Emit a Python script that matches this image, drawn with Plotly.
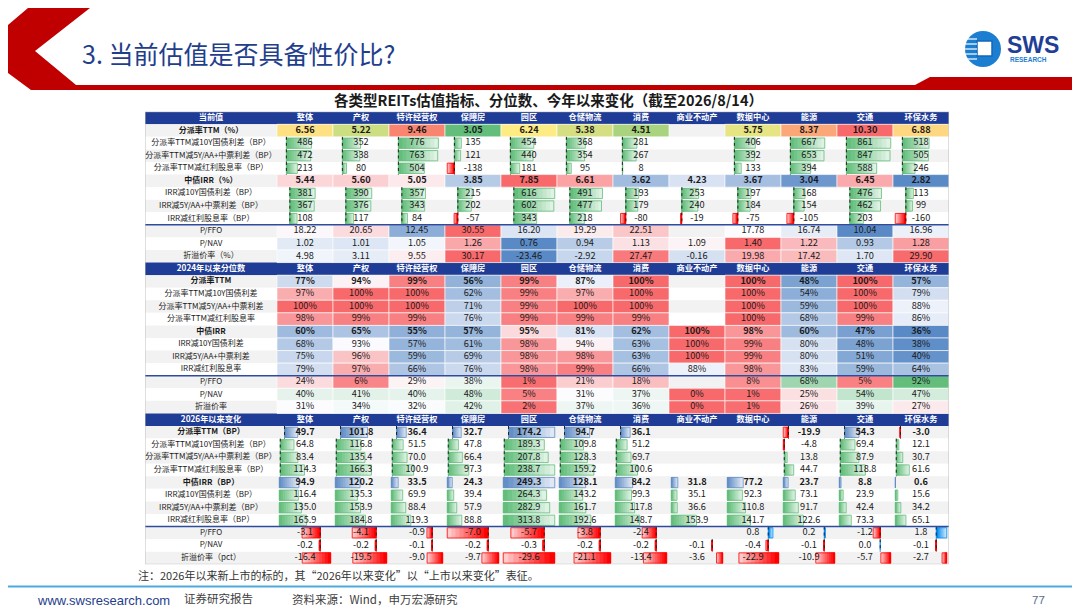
import numpy as np
import plotly.graph_objects as go

# ---- data ----
columns = ["整体", "产权", "特许经营权", "保障房", "园区", "仓储物流", "消费",
           "商业不动产", "数据中心", "能源", "交通", "环保水务"]
section_titles = ["当前值", "2024年以来分位数", "2026年以来变化"]

cur_labels = ["分派率TTM（%）", "分派率TTM减10Y国债利差（BP）", "分派率TTM减5Y/AA+中票利差（BP）",
              "分派率TTM减红利股息率（BP）", "中债IRR（%）", "IRR减10Y国债利差（BP）",
              "IRR减5Y/AA+中票利差（BP）", "IRR减红利股息率（BP）", "P/FFO", "P/NAV", "折溢价率（%）"]
cur_yield = [6.56, 5.22, 9.46, 3.05, 6.24, 5.38, 4.51, None, 5.75, 8.37, 10.30, 6.88]
cur_yield_10y = [486, 352, 776, 135, 454, 368, 281, None, 406, 667, 861, 518]
cur_yield_5yaa = [472, 338, 763, 121, 440, 354, 267, None, 392, 653, 847, 505]
cur_yield_div = [213, 80, 504, -138, 181, 95, 8, None, 133, 394, 588, 246]
cur_irr = [5.44, 5.60, 5.05, 3.85, 7.85, 6.61, 3.62, 4.23, 3.67, 3.04, 6.45, 2.82]
cur_irr_10y = [381, 390, 357, 215, 616, 491, 193, 253, 197, 168, 476, 113]
cur_irr_5yaa = [367, 376, 343, 202, 602, 477, 179, 240, 184, 154, 462, 99]
cur_irr_div = [108, 117, 84, -57, 343, 218, -80, -19, -75, -105, 203, -160]
cur_pffo = [18.22, 20.65, 12.45, 30.55, 16.20, 19.29, 22.51, None, 17.78, 16.74, 10.04, 16.96]
cur_pnav = [1.02, 1.01, 1.05, 1.26, 0.76, 0.94, 1.13, 1.09, 1.40, 1.22, 0.93, 1.28]
cur_prem = [4.98, 3.11, 9.55, 30.17, -23.46, -2.92, 27.47, -0.16, 19.98, 17.42, 1.70, 29.90]

pct_labels = ["分派率TTM", "分派率TTM减10Y国债利差", "分派率TTM减5Y/AA+中票利差", "分派率TTM减红利股息率",
              "中债IRR", "IRR减10Y国债利差", "IRR减5Y/AA+中票利差", "IRR减红利股息率",
              "P/FFO", "P/NAV", "折溢价率"]
pct_yield = [77, 94, 99, 56, 99, 87, 100, None, 100, 48, 100, 57]
pct_yield_10y = [97, 100, 100, 62, 99, 97, 100, None, 100, 54, 100, 79]
pct_yield_5yaa = [100, 100, 100, 71, 99, 100, 100, None, 100, 59, 100, 88]
pct_yield_div = [98, 99, 99, 76, 99, 99, 99, None, 100, 68, 99, 86]
pct_irr = [60, 65, 55, 57, 95, 81, 62, 100, 98, 60, 47, 36]
pct_irr_10y = [68, 93, 57, 61, 98, 94, 63, 100, 99, 80, 48, 38]
pct_irr_5yaa = [75, 96, 59, 69, 98, 98, 63, 100, 99, 80, 51, 40]
pct_irr_div = [79, 97, 66, 76, 98, 99, 66, 88, 98, 83, 59, 64]
pct_pffo = [24, 6, 29, 38, 1, 21, 18, None, 8, 68, 5, 92]
pct_pnav = [40, 41, 40, 48, 5, 31, 37, 0, 1, 25, 54, 47]
pct_prem = [31, 34, 32, 42, 2, 37, 36, 0, 1, 26, 39, 27]

chg_labels = ["分派率TTM（BP）", "分派率TTM减10Y国债利差（BP）", "分派率TTM减5Y/AA+中票利差（BP）",
              "分派率TTM减红利股息率（BP）", "中债IRR（BP）", "IRR减10Y国债利差（BP）",
              "IRR减5Y/AA+中票利差（BP）", "IRR减红利股息率（BP）", "P/FFO", "P/NAV", "折溢价率（pct）"]
chg_yield = [49.7, 101.8, 36.4, 32.7, 174.2, 94.7, 36.1, None, None, -19.9, 54.3, -3.0]
chg_yield_10y = [64.8, 116.8, 51.5, 47.8, 189.3, 109.8, 51.2, None, None, -4.8, 69.4, 12.1]
chg_yield_5yaa = [83.4, 135.4, 70.0, 66.4, 207.8, 128.3, 69.7, None, None, 13.8, 87.9, 30.7]
chg_yield_div = [114.3, 166.3, 100.9, 97.3, 238.7, 159.2, 100.6, None, None, 44.7, 118.8, 61.6]
chg_irr = [94.9, 120.2, 33.5, 24.3, 249.3, 128.1, 84.2, 31.8, 77.2, 23.7, 8.8, 0.6]
chg_irr_10y = [116.4, 135.3, 69.9, 39.4, 264.3, 143.2, 99.3, 35.1, 92.3, 73.1, 23.9, 15.6]
chg_irr_5yaa = [135.0, 153.9, 88.4, 57.9, 282.9, 161.7, 117.8, 36.6, 110.8, 91.7, 42.4, 34.2]
chg_irr_div = [165.9, 184.8, 119.3, 88.8, 313.8, 192.6, 148.7, 153.9, 141.7, 122.6, 73.3, 65.1]
chg_pffo = [-3.1, -4.1, -0.9, -7.0, -5.7, -3.8, -2.4, None, 0.8, 0.2, -1.2, 1.8]
chg_pnav = [-0.2, -0.2, -0.1, -0.2, -0.3, -0.2, -0.2, -0.1, -0.4, -0.1, 0.0, -0.1]
chg_prem = [-16.4, -19.5, -9.0, -9.7, -29.6, -21.1, -13.4, -3.6, -22.9, -10.9, -5.7, -2.7]

sections = [
    (section_titles[0], cur_labels, [cur_yield, cur_yield_10y, cur_yield_5yaa, cur_yield_div, cur_irr,
                                     cur_irr_10y, cur_irr_5yaa, cur_irr_div, cur_pffo, cur_pnav, cur_prem]),
    (section_titles[1], pct_labels, [pct_yield, pct_yield_10y, pct_yield_5yaa, pct_yield_div, pct_irr,
                                     pct_irr_10y, pct_irr_5yaa, pct_irr_div, pct_pffo, pct_pnav, pct_prem]),
    (section_titles[2], chg_labels, [chg_yield, chg_yield_10y, chg_yield_5yaa, chg_yield_div, chg_irr,
                                     chg_irr_10y, chg_irr_5yaa, chg_irr_div, chg_pffo, chg_pnav, chg_prem]),
]


def fmt(s, r, v):
    if s == 0:
        return "%.2f" % v if r in (0, 4, 8, 9, 10) else "%.0f" % v
    if s == 1:
        return "%.0f%%" % v
    return "%.1f" % v


# ---- styles ----
FONT = "Noto Sans CJK SC"
HEADER = "#1F3C96"
STRIPE = "#F2F2F2"
GREEN, YELLOW, RED, BLUE, WHITE = "#63BE7B", "#FFEB84", "#F8696B", "#5A8AC6", "#FCFCFF"
BAR_RED, BAR_BLUE, BAR_SKY = "#FF0000", "#638EC6", "#008AEF"

color_rules = [
    (0, [0], GREEN, YELLOW, RED),
    (0, [4], BLUE, WHITE, RED),
    (0, [8], BLUE, WHITE, RED),
    (0, [9], BLUE, WHITE, RED),
    (0, [10], BLUE, WHITE, RED),
    (1, [0, 1, 2, 3, 4, 5, 6, 7], BLUE, WHITE, RED),
    (1, [8, 9, 10], RED, WHITE, GREEN),
]
bar_rules = [
    (0, [1, 2, 3], GREEN),
    (0, [5, 6, 7], GREEN),
    (2, [0], BAR_BLUE),
    (2, [1, 2, 3], GREEN),
    (2, [4], BAR_BLUE),
    (2, [5, 6, 7], GREEN),
    (2, [8, 9], BAR_SKY),
    (2, [10], BAR_SKY),
]

W, H = 1080, 608
LW = 132 / 56
TOP_PX, BOT_PX = 103.7, 556.3
LEFT_PX, RIGHT_PX = 137, 941
PAD = 0.04
N_SEG = 10


def hex_rgb(h):
    h = h.lstrip("#")
    return [int(h[i:i + 2], 16) for i in (0, 2, 4)]


def mix(c1, c2, t):
    t = min(max(t, 0.0), 1.0)
    a, b = hex_rgb(c1), hex_rgb(c2)
    return "rgb(%d,%d,%d)" % tuple(round(a[k] + (b[k] - a[k]) * t) for k in range(3))


def scale3(v, lo, mid, hi, c_lo, c_mid, c_hi):
    if v <= mid:
        return mix(c_lo, c_mid, (v - lo) / (mid - lo) if mid > lo else 1)
    return mix(c_mid, c_hi, (v - mid) / (hi - mid) if hi > mid else 1)


def row_y(s, r):
    return s * 12 + 1 + r


fig = go.Figure()

# row backgrounds
bg_y, bg_c = [], []
for i in range(36):
    r = i % 12
    bg_y.append(i)
    bg_c.append(HEADER if r == 0 else (STRIPE if (r - 1) % 2 == 0 else "#FFFFFF"))
fig.add_trace(go.Bar(orientation="h", y=bg_y, x=[12 + LW] * 36, base=[-LW] * 36, width=1,
                     marker=dict(color=bg_c, line=dict(width=0)), hoverinfo="skip"))

# colour-scale cells
cy, cx, cc = [], [], []
for s, rows, c_lo, c_mid, c_hi in color_rules:
    data = sections[s][2]
    vals = [v for r in rows for v in data[r] if v is not None]
    lo, mid, hi = min(vals), float(np.percentile(vals, 50)), max(vals)
    for r in rows:
        for j, v in enumerate(data[r]):
            if v is None:
                continue
            cy.append(row_y(s, r))
            cx.append(j)
            cc.append(scale3(v, lo, mid, hi, c_lo, c_mid, c_hi))
fig.add_trace(go.Bar(orientation="h", y=cy, x=[1] * len(cy), base=cx, width=1,
                     marker=dict(color=cc, line=dict(color="white", width=0.6)), hoverinfo="skip"))

# data bars
sy, sb, sl, sc = [], [], [], []
oy, ob, ol, oc = [], [], [], []
ax_x, ax_y = [], []
for s, rows, pos_color in bar_rules:
    data = sections[s][2]
    vals = [v for r in rows for v in data[r] if v is not None]
    lo, hi = min(0, min(vals)), max(0, max(vals))
    span = hi - lo
    a = -lo / span
    for r in rows:
        y = row_y(s, r)
        for j, v in enumerate(data[r]):
            if v is None:
                continue
            x0 = j + PAD + a * (1 - 2 * PAD)
            L = v / span * (1 - 2 * PAD)
            c = pos_color if v >= 0 else BAR_RED
            for k in range(N_SEG):
                sy.append(y)
                sb.append(x0)
                sl.append(L * (N_SEG - k) / N_SEG)
                sc.append(mix(c, "#FFFFFF", 0.8 * (N_SEG - 1 - k) / (N_SEG - 1)))
            oy.append(y)
            ob.append(x0)
            ol.append(L)
            oc.append(c)
            if lo < 0 < hi:
                ax_x += [x0, x0, None]
                ax_y += [y - 0.5, y + 0.5, None]
fig.add_trace(go.Bar(orientation="h", y=sy, x=sl, base=sb, width=0.82,
                     marker=dict(color=sc, line=dict(width=0)), hoverinfo="skip"))
fig.add_trace(go.Bar(orientation="h", y=oy, x=ol, base=ob, width=0.82,
                     marker=dict(color="rgba(0,0,0,0)", line=dict(color=oc, width=0.8)), hoverinfo="skip"))
fig.add_trace(go.Scatter(x=ax_x, y=ax_y, mode="lines", line=dict(color="#222222", width=1, dash="dot"),
                         hoverinfo="skip"))

# separator lines and border
sep_x, sep_y = [], []
for s in range(3):
    sep_x += [-LW, 12, None]
    sep_y += [row_y(s, 7.5)] * 2 + [None]
fig.add_trace(go.Scatter(x=sep_x, y=sep_y, mode="lines", line=dict(color="#2F4B9E", width=1.5),
                         hoverinfo="skip"))
fig.add_trace(go.Scatter(x=[-LW, 12, 12, -LW, -LW], y=[-0.5, -0.5, 35.5, 35.5, -0.5], mode="lines",
                         line=dict(color="#BFBFBF", width=1), hoverinfo="skip"))

# texts
hx, hy, ht = [], [], []
tx, ty, tt = [], [], []
lx, ly, lt = [], [], []
for s, (title, labels, data) in enumerate(sections):
    hx.append(-LW / 2)
    hy.append(s * 12)
    ht.append("<b>%s</b>" % title)
    for j, name in enumerate(columns):
        hx.append(j + 0.5)
        hy.append(s * 12)
        ht.append("<b>%s</b>" % name)
    for r, lab in enumerate(labels):
        bold = r in (0, 4)
        lx.append(-LW / 2)
        ly.append(row_y(s, r))
        lt.append("<b>%s</b>" % lab if bold else lab)
        for j, v in enumerate(data[r]):
            if v is None:
                continue
            tx.append(j + 0.5)
            ty.append(row_y(s, r))
            tt.append("<b>%s</b>" % fmt(s, r, v) if bold else fmt(s, r, v))
fig.add_trace(go.Scatter(x=hx, y=hy, text=ht, mode="text", textposition="middle center",
                         textfont=dict(family=FONT, size=8.2, color="white"), hoverinfo="skip"))
fig.add_trace(go.Scatter(x=lx, y=ly, text=lt, mode="text", textposition="middle center",
                         textfont=dict(family=FONT, size=8, color="#1A1A1A"), hoverinfo="skip"))
fig.add_trace(go.Scatter(x=tx, y=ty, text=tt, mode="text", textposition="middle center",
                         textfont=dict(family=FONT, size=9.2, color="#1A1A1A"), hoverinfo="skip"))


# ---- slide decoration ----
def P(x, y):
    return "%.4f,%.4f" % (x / W, 1 - y / H)


chevron = [(20, 0), (82, 0), (27, 43), (68, 77), (907, 77), (922, 69), (1080, 69), (1080, 82),
           (23, 82), (0, 65), (0, 17)]
shapes = [
    dict(type="path", xref="paper", yref="paper",
         path="M " + " L ".join(P(x, y) for x, y in chevron) + " Z",
         fillcolor="#C00000", line=dict(width=0)),
    dict(type="circle", xref="paper", yref="paper", x0=957 / W, x1=993 / W, y0=1 - 59 / H, y1=1 - 23 / H,
         fillcolor="#1C7ED0", line=dict(width=0)),
    dict(type="rect", xref="paper", yref="paper", x0=969 / W, x1=984 / W, y0=1 - 48 / H, y1=1 - 33 / H,
         fillcolor="white", line=dict(color="#1565B8", width=1.5)),
    dict(type="line", xref="paper", yref="paper", x0=0, x1=1, y0=1 - 578.5 / H, y1=1 - 578.5 / H,
         line=dict(color="#4BACDC", width=2)),
]
for yy in (31, 36, 41, 46, 51):
    shapes.append(dict(type="line", xref="paper", yref="paper", x0=957 / W, x1=969 / W,
                       y0=1 - yy / H, y1=1 - yy / H, line=dict(color="white", width=1.2)))


def note(x, y, text, size, color, anchor="left", family=FONT):
    return dict(x=x / W, y=1 - y / H, xref="paper", yref="paper", text=text, showarrow=False,
                xanchor=anchor, yanchor="middle", font=dict(family=family, size=size, color=color))


annotations = [
    note(72, 45, "3. 当前估值是否具备性价比?", 25, "#1F3E8C"),
    note(540, 92, "<b>各类型REITs估值指标、分位数、今年以来变化（截至2026/8/14）</b>", 14.5, "#1A1A1A", "center"),
    note(997, 37, "<b>SWS</b>", 23, "#1F3E96", family="Liberation Sans"),
    note(1000, 51.5, "<b>RESEARCH</b>", 6.5, "#1C7ED0", family="Liberation Sans"),
    note(128, 567, "注：2026年以来新上市的标的，其“2026年以来变化”以“上市以来变化”表征。", 11, "#333333"),
    note(27, 592, "www.swsresearch.com", 13, "#1F3E8C", family="Liberation Sans"),
    note(174, 590, "证券研究报告", 11.5, "#404040"),
    note(282, 591, "资料来源：Wind，申万宏源研究", 11.5, "#404040"),
    note(1030, 592, "77", 11.5, "#5A6B8C", "center", family="Liberation Sans"),
]

fig.update_layout(
    width=W, height=H, margin=dict(l=0, r=0, t=0, b=0),
    paper_bgcolor="white", plot_bgcolor="white", barmode="overlay", showlegend=False,
    xaxis=dict(range=[-LW, 12], domain=[LEFT_PX / W, RIGHT_PX / W], visible=False, fixedrange=True),
    yaxis=dict(range=[35.5, -0.5], domain=[1 - BOT_PX / H, 1 - TOP_PX / H], visible=False, fixedrange=True),
    shapes=shapes, annotations=annotations,
)

fig.write_html("out.html")
